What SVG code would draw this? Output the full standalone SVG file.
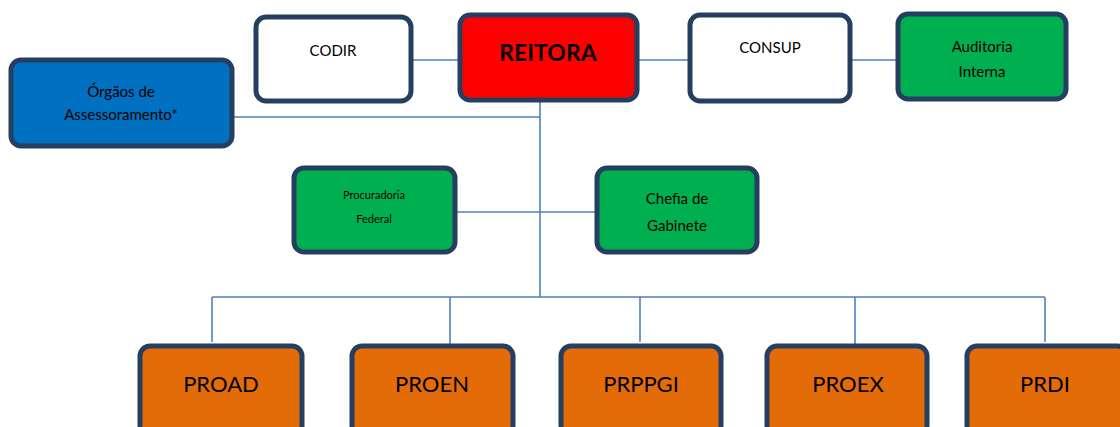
<svg xmlns="http://www.w3.org/2000/svg" width="1120" height="427" viewBox="0 0 1120 427">
<style>
.box{stroke:#243f60;stroke-width:5;}
.w{fill:#ffffff}.r{fill:#ff0000}.g{fill:#00b050}.b{fill:#0070c0}.o{fill:#e36c09}
.c{stroke:#4f81bd;stroke-width:1.6;fill:none}
text{font-family:Lato,"Open Sans","Liberation Sans",sans-serif;fill:#000;text-anchor:middle;dominant-baseline:central}
.s14{font-size:15px}.s11{font-size:11px}.big{font-size:22px}
</style>
<rect width="1120" height="427" fill="#fff"/>
<g id="connectors">
<path class="c" d="M412 60H460M638 60H690M851 60H897"/>
<path class="c" d="M540 100V297"/>
<path class="c" d="M232 117H540"/>
<path class="c" d="M456 212H595"/>
<path class="c" d="M212 297H1045M212 297V342M450 297V346M640 297V342M855 297V346M1045 297V342"/>
</g>
<g id="codir"><rect class="box w" x="256" y="17" width="155" height="84" rx="10"/><text class="s14" x="333" y="50">CODIR</text></g>
<g id="reitora"><rect class="box r" x="460" y="15" width="177" height="85" rx="10"/><text x="548" y="52" style="font-size:23px;font-weight:bold">REITORA</text></g>
<g id="consup"><rect class="box w" x="690" y="15" width="160" height="86" rx="10"/><text class="s14" x="770" y="47">CONSUP</text></g>
<g id="auditoria"><rect class="box g" x="898" y="14" width="168" height="85" rx="10"/><text class="s14" x="982" y="46">Auditoria</text><text class="s14" x="982" y="71">Interna</text></g>
<g id="orgaos"><rect class="box b" x="11" y="60" width="221" height="86" rx="10"/><text class="s14" x="121" y="91">Órgãos de</text><text class="s14" x="121" y="114">Assessoramento*</text></g>
<g id="procuradoria"><rect class="box g" x="294" y="168" width="161" height="84" rx="10"/><text class="s11" x="374" y="194">Procuradoria</text><text class="s11" x="374" y="218">Federal</text></g>
<g id="chefia"><rect class="box g" x="597" y="168" width="160" height="84" rx="10"/><text class="s14" x="677" y="198">Chefia de</text><text class="s14" x="677" y="225">Gabinete</text></g>
<g id="proad"><rect class="box o" x="140" y="346" width="162" height="90" rx="10"/><text class="big" x="221" y="383">PROAD</text></g>
<g id="proen"><rect class="box o" x="352" y="346" width="161" height="90" rx="10"/><text class="big" x="432" y="383">PROEN</text></g>
<g id="prppgi"><rect class="box o" x="561" y="346" width="160" height="90" rx="10"/><text class="big" x="641" y="383">PRPPGI</text></g>
<g id="proex"><rect class="box o" x="767" y="346" width="160" height="90" rx="10"/><text class="big" x="848" y="383">PROEX</text></g>
<g id="prdi"><rect class="box o" x="967" y="346" width="160" height="90" rx="10"/><text class="big" x="1045" y="383">PRDI</text></g>
</svg>
